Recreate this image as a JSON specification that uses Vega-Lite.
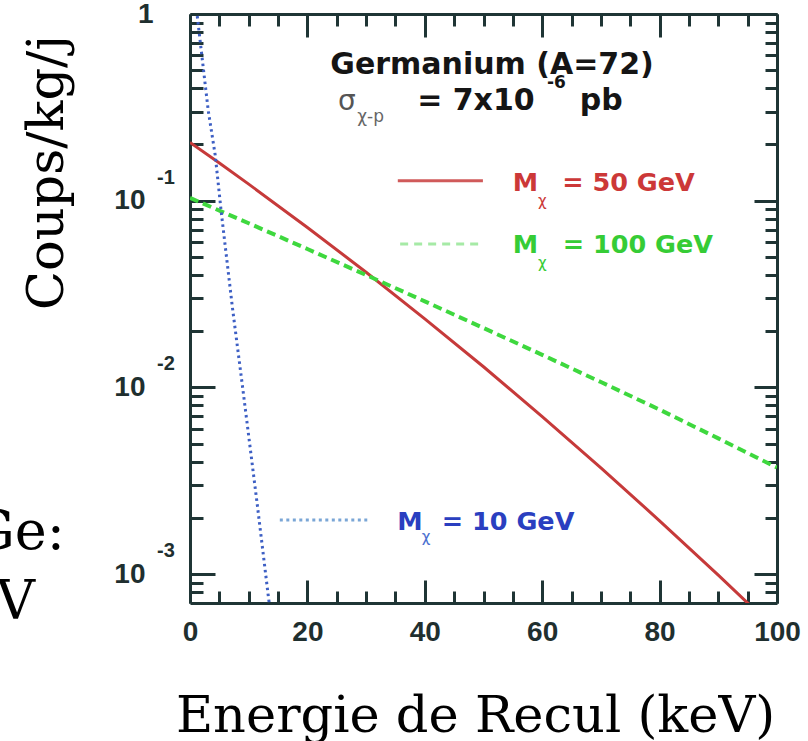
{
  "$schema": "https://vega.github.io/schema/vega-lite/v6.json",
  "width": 587,
  "height": 589,
  "autosize": {"type": "none"},
  "padding": {"left": 190, "top": 14, "right": 31, "bottom": 138},
  "background": "white",
  "config": {
    "view": {"stroke": null},
    "axis": {
      "domainColor": "#1f3535",
      "domainWidth": 3,
      "tickColor": "#1f3535",
      "tickWidth": 3,
      "grid": false,
      "labelFont": "Liberation Sans",
      "labelFontWeight": "bold",
      "labelFontSize": 28,
      "labelColor": "#1f2f2f",
      "labelOverlap": false,
      "labelFlush": false,
      "labelBound": false
    }
  },
  "datasets": {
    "curves": [
      {"mass": "50 GeV", "energy": 0, "rate": 0.205},
      {"mass": "50 GeV", "energy": 5, "rate": 0.159},
      {"mass": "50 GeV", "energy": 10, "rate": 0.1227},
      {"mass": "50 GeV", "energy": 20, "rate": 0.0719},
      {"mass": "50 GeV", "energy": 30, "rate": 0.0414},
      {"mass": "50 GeV", "energy": 40, "rate": 0.0233},
      {"mass": "50 GeV", "energy": 50, "rate": 0.0129},
      {"mass": "50 GeV", "energy": 60, "rate": 0.00698},
      {"mass": "50 GeV", "energy": 70, "rate": 0.00371},
      {"mass": "50 GeV", "energy": 80, "rate": 0.00193},
      {"mass": "50 GeV", "energy": 90, "rate": 0.000987},
      {"mass": "50 GeV", "energy": 97, "rate": 0.00061},
      {"mass": "100 GeV", "energy": 0, "rate": 0.1035},
      {"mass": "100 GeV", "energy": 10, "rate": 0.0757},
      {"mass": "100 GeV", "energy": 20, "rate": 0.0551},
      {"mass": "100 GeV", "energy": 30, "rate": 0.04},
      {"mass": "100 GeV", "energy": 40, "rate": 0.0289},
      {"mass": "100 GeV", "energy": 50, "rate": 0.0208},
      {"mass": "100 GeV", "energy": 60, "rate": 0.01494},
      {"mass": "100 GeV", "energy": 70, "rate": 0.01068},
      {"mass": "100 GeV", "energy": 80, "rate": 0.0076},
      {"mass": "100 GeV", "energy": 90, "rate": 0.00533},
      {"mass": "100 GeV", "energy": 100, "rate": 0.00372},
      {"mass": "10 GeV", "energy": 1.0, "rate": 1.13},
      {"mass": "10 GeV", "energy": 3.1, "rate": 0.305},
      {"mass": "10 GeV", "energy": 4.3, "rate": 0.175},
      {"mass": "10 GeV", "energy": 5.3, "rate": 0.0883},
      {"mass": "10 GeV", "energy": 7.2, "rate": 0.0272},
      {"mass": "10 GeV", "energy": 9.0, "rate": 0.0098},
      {"mass": "10 GeV", "energy": 11.4, "rate": 0.00244},
      {"mass": "10 GeV", "energy": 13.3, "rate": 0.00078},
      {"mass": "10 GeV", "energy": 13.6, "rate": 0.00066}
    ],
    "keys": [
      {"mass": "50 GeV", "x1": 35.4, "x2": 49.9, "v": 0.128},
      {"mass": "100 GeV", "x1": 35.8, "x2": 49.9, "v": 0.0587},
      {"mass": "10 GeV", "x1": 15.3, "x2": 30.2, "v": 0.00195}
    ],
    "notes": [
      {"g": "title", "t": "Germanium (A=72)", "e": 23.9, "v": 0.48},
      {"g": "sigma", "t": "σ", "e": 25.2, "v": 0.305},
      {"g": "sigsub", "t": "χ-p", "e": 28.5, "v": 0.265},
      {"g": "main", "t": "= 7x10", "e": 38.7, "v": 0.305},
      {"g": "sup", "t": "-6", "e": 60.8, "v": 0.4},
      {"g": "main", "t": "pb", "e": 66.4, "v": 0.305},
      {"g": "red", "t": "M", "e": 55.0, "v": 0.113},
      {"g": "redsub", "t": "χ", "e": 59.3, "v": 0.094},
      {"g": "red", "t": "= 50 GeV", "e": 63.4, "v": 0.113},
      {"g": "green", "t": "M", "e": 55.0, "v": 0.0525},
      {"g": "greensub", "t": "χ", "e": 59.3, "v": 0.0436},
      {"g": "green", "t": "= 100 GeV", "e": 63.5, "v": 0.0525},
      {"g": "blue", "t": "M", "e": 35.3, "v": 0.001725},
      {"g": "bluesub", "t": "χ", "e": 39.5, "v": 0.00149},
      {"g": "blue", "t": "= 10 GeV", "e": 42.9, "v": 0.001725},
      {"g": "side", "t": "Ge:", "e": -21.3, "v": 0.00136},
      {"g": "side", "t": "V", "e": -26.4, "v": 0.000573}
    ],
    "exps": [
      {"t": "-1", "v": 0.1},
      {"t": "-2", "v": 0.01},
      {"t": "-3", "v": 0.001}
    ]
  },
  "layer": [
    {
      "data": {"name": "curves"},
      "transform": [{"filter": "datum.mass === '50 GeV'"}],
      "mark": {"type": "line", "color": "#c63a3a", "strokeWidth": 3, "clip": true},
      "encoding": {
        "x": {
          "field": "energy", "type": "quantitative",
          "scale": {"domain": [0, 100], "nice": false, "zero": false},
          "axis": {
            "orient": "bottom",
            "values": [0, 5, 10, 15, 20, 25, 30, 35, 40, 45, 50, 55, 60, 65, 70, 75, 80, 85, 90, 95, 100],
            "labelExpr": "datum.value % 20 === 0 ? datum.label : ''",
            "tickSize": {"condition": {"test": "datum.value % 20 === 0", "value": -23}, "value": -12},
            "labelPadding": 38,
            "title": "Energie de Recul (keV)",
            "titleFont": "DejaVu Serif",
            "titleFontSize": 51,
            "titleFontWeight": "normal",
            "titleColor": "#000000",
            "titleX": 285,
            "titleY": 128,
            "titleAlign": "center",
            "titleBaseline": "alphabetic"
          }
        },
        "y": {
          "field": "rate", "type": "quantitative",
          "scale": {"type": "log", "domain": [0.0007, 1], "nice": false},
          "axis": {
            "orient": "left",
            "values": [0.0008, 0.0009, 0.001, 0.002, 0.003, 0.004, 0.005, 0.006, 0.007, 0.008, 0.009, 0.01, 0.02, 0.03, 0.04, 0.05, 0.06, 0.07, 0.08, 0.09, 0.1, 0.2, 0.3, 0.4, 0.5, 0.6, 0.7, 0.8, 0.9, 1],
            "labelExpr": "datum.value === 1 ? '1' : (indexof([0.001, 0.01, 0.1], datum.value) >= 0 ? '10' : '')",
            "tickSize": {"condition": {"test": "indexof([0.001, 0.01, 0.1, 1], datum.value) >= 0", "value": -25}, "value": -13},
            "labelPadding": {"condition": {"test": "datum.value === 1", "value": 62}, "value": 70},
            "title": "Coups/kg/j",
            "titleFont": "DejaVu Serif",
            "titleFontSize": 51,
            "titleFontWeight": "normal",
            "titleColor": "#000000",
            "titleAngle": 270,
            "titleX": -128,
            "titleY": 158,
            "titleAlign": "center",
            "titleBaseline": "alphabetic"
          }
        }
      }
    },
    {
      "data": {"name": "curves"},
      "transform": [{"filter": "datum.mass === '100 GeV'"}],
      "mark": {"type": "line", "color": "#3ed83e", "strokeWidth": 4, "strokeDash": [9, 5], "clip": true},
      "encoding": {
        "x": {
          "field": "energy", "type": "quantitative",
          "axis": {
            "orient": "top",
            "values": [0, 5, 10, 15, 20, 25, 30, 35, 40, 45, 50, 55, 60, 65, 70, 75, 80, 85, 90, 95, 100],
            "labels": false,
            "tickSize": {"condition": {"test": "datum.value % 20 === 0", "value": -23}, "value": -12},
            "title": null
          }
        },
        "y": {
          "field": "rate", "type": "quantitative",
          "axis": {
            "orient": "right",
            "values": [0.0008, 0.0009, 0.001, 0.002, 0.003, 0.004, 0.005, 0.006, 0.007, 0.008, 0.009, 0.01, 0.02, 0.03, 0.04, 0.05, 0.06, 0.07, 0.08, 0.09, 0.1, 0.2, 0.3, 0.4, 0.5, 0.6, 0.7, 0.8, 0.9, 1],
            "labels": false,
            "tickSize": {"condition": {"test": "indexof([0.001, 0.01, 0.1, 1], datum.value) >= 0", "value": -23}, "value": -12},
            "title": null
          }
        }
      }
    },
    {
      "data": {"name": "curves"},
      "transform": [{"filter": "datum.mass === '10 GeV'"}],
      "mark": {"type": "line", "color": "#3d5fc4", "strokeWidth": 3, "strokeDash": [2.5, 3.5], "clip": true},
      "encoding": {
        "x": {"field": "energy", "type": "quantitative", "axis": null},
        "y": {"field": "rate", "type": "quantitative", "axis": null}
      }
    },
    {
      "data": {"name": "keys"},
      "transform": [{"filter": "datum.mass === '50 GeV'"}],
      "mark": {"type": "rule", "color": "#d05a5a", "strokeWidth": 3},
      "encoding": {
        "x": {"field": "x1", "type": "quantitative", "axis": null},
        "x2": {"field": "x2"},
        "y": {"field": "v", "type": "quantitative", "axis": null}
      }
    },
    {
      "data": {"name": "keys"},
      "transform": [{"filter": "datum.mass === '100 GeV'"}],
      "mark": {"type": "rule", "color": "#a6eaa6", "strokeWidth": 3, "strokeDash": [8, 6]},
      "encoding": {
        "x": {"field": "x1", "type": "quantitative", "axis": null},
        "x2": {"field": "x2"},
        "y": {"field": "v", "type": "quantitative", "axis": null}
      }
    },
    {
      "data": {"name": "keys"},
      "transform": [{"filter": "datum.mass === '10 GeV'"}],
      "mark": {"type": "rule", "color": "#7aa6d6", "strokeWidth": 3, "strokeDash": [3, 3.5]},
      "encoding": {
        "x": {"field": "x1", "type": "quantitative", "axis": null},
        "x2": {"field": "x2"},
        "y": {"field": "v", "type": "quantitative", "axis": null}
      }
    },
    {
      "data": {"name": "notes"},
      "transform": [{"filter": "datum.g === 'title' || datum.g === 'main'"}],
      "mark": {"type": "text", "font": "DejaVu Sans", "fontWeight": "bold", "fontSize": 30, "color": "#151515", "align": "left", "baseline": "alphabetic"},
      "encoding": {
        "x": {"field": "e", "type": "quantitative", "axis": null},
        "y": {"field": "v", "type": "quantitative", "axis": null},
        "text": {"field": "t"}
      }
    },
    {
      "data": {"name": "notes"},
      "transform": [{"filter": "datum.g === 'sup'"}],
      "mark": {"type": "text", "font": "DejaVu Sans", "fontWeight": "bold", "fontSize": 17, "color": "#151515", "align": "left", "baseline": "alphabetic"},
      "encoding": {
        "x": {"field": "e", "type": "quantitative", "axis": null},
        "y": {"field": "v", "type": "quantitative", "axis": null},
        "text": {"field": "t"}
      }
    },
    {
      "data": {"name": "notes"},
      "transform": [{"filter": "datum.g === 'sigma'"}],
      "mark": {"type": "text", "font": "DejaVu Sans", "fontSize": 28, "color": "#555555", "align": "left", "baseline": "alphabetic"},
      "encoding": {
        "x": {"field": "e", "type": "quantitative", "axis": null},
        "y": {"field": "v", "type": "quantitative", "axis": null},
        "text": {"field": "t"}
      }
    },
    {
      "data": {"name": "notes"},
      "transform": [{"filter": "datum.g === 'sigsub'"}],
      "mark": {"type": "text", "font": "DejaVu Sans", "fontSize": 17, "color": "#666666", "align": "left", "baseline": "alphabetic"},
      "encoding": {
        "x": {"field": "e", "type": "quantitative", "axis": null},
        "y": {"field": "v", "type": "quantitative", "axis": null},
        "text": {"field": "t"}
      }
    },
    {
      "data": {"name": "notes"},
      "transform": [{"filter": "datum.g === 'red'"}],
      "mark": {"type": "text", "font": "DejaVu Sans", "fontWeight": "bold", "fontSize": 25.5, "color": "#cc3838", "align": "left", "baseline": "alphabetic"},
      "encoding": {
        "x": {"field": "e", "type": "quantitative", "axis": null},
        "y": {"field": "v", "type": "quantitative", "axis": null},
        "text": {"field": "t"}
      }
    },
    {
      "data": {"name": "notes"},
      "transform": [{"filter": "datum.g === 'redsub'"}],
      "mark": {"type": "text", "font": "DejaVu Sans", "fontSize": 15, "color": "#cc3838", "align": "left", "baseline": "alphabetic"},
      "encoding": {
        "x": {"field": "e", "type": "quantitative", "axis": null},
        "y": {"field": "v", "type": "quantitative", "axis": null},
        "text": {"field": "t"}
      }
    },
    {
      "data": {"name": "notes"},
      "transform": [{"filter": "datum.g === 'green'"}],
      "mark": {"type": "text", "font": "DejaVu Sans", "fontWeight": "bold", "fontSize": 25.5, "color": "#36cc36", "align": "left", "baseline": "alphabetic"},
      "encoding": {
        "x": {"field": "e", "type": "quantitative", "axis": null},
        "y": {"field": "v", "type": "quantitative", "axis": null},
        "text": {"field": "t"}
      }
    },
    {
      "data": {"name": "notes"},
      "transform": [{"filter": "datum.g === 'greensub'"}],
      "mark": {"type": "text", "font": "DejaVu Sans", "fontSize": 15, "color": "#36cc36", "align": "left", "baseline": "alphabetic"},
      "encoding": {
        "x": {"field": "e", "type": "quantitative", "axis": null},
        "y": {"field": "v", "type": "quantitative", "axis": null},
        "text": {"field": "t"}
      }
    },
    {
      "data": {"name": "notes"},
      "transform": [{"filter": "datum.g === 'blue'"}],
      "mark": {"type": "text", "font": "DejaVu Sans", "fontWeight": "bold", "fontSize": 25.5, "color": "#2a3fc0", "align": "left", "baseline": "alphabetic"},
      "encoding": {
        "x": {"field": "e", "type": "quantitative", "axis": null},
        "y": {"field": "v", "type": "quantitative", "axis": null},
        "text": {"field": "t"}
      }
    },
    {
      "data": {"name": "notes"},
      "transform": [{"filter": "datum.g === 'bluesub'"}],
      "mark": {"type": "text", "font": "DejaVu Sans", "fontSize": 15, "color": "#4a70d0", "align": "left", "baseline": "alphabetic"},
      "encoding": {
        "x": {"field": "e", "type": "quantitative", "axis": null},
        "y": {"field": "v", "type": "quantitative", "axis": null},
        "text": {"field": "t"}
      }
    },
    {
      "data": {"name": "notes"},
      "transform": [{"filter": "datum.g === 'side'"}],
      "mark": {"type": "text", "font": "DejaVu Serif", "fontSize": 54, "color": "#000000", "align": "right", "baseline": "alphabetic"},
      "encoding": {
        "x": {"field": "e", "type": "quantitative", "axis": null},
        "y": {"field": "v", "type": "quantitative", "axis": null},
        "text": {"field": "t"}
      }
    },
    {
      "data": {"name": "exps"},
      "mark": {"type": "text", "font": "Liberation Sans", "fontWeight": "bold", "fontSize": 20, "color": "#1f2f2f", "align": "left", "baseline": "middle", "dx": -33, "dy": -23},
      "encoding": {
        "x": {"datum": 0, "type": "quantitative", "axis": null},
        "y": {"field": "v", "type": "quantitative", "axis": null},
        "text": {"field": "t"}
      }
    }
  ],
  "resolve": {"axis": {"x": "independent", "y": "independent"}}
}
